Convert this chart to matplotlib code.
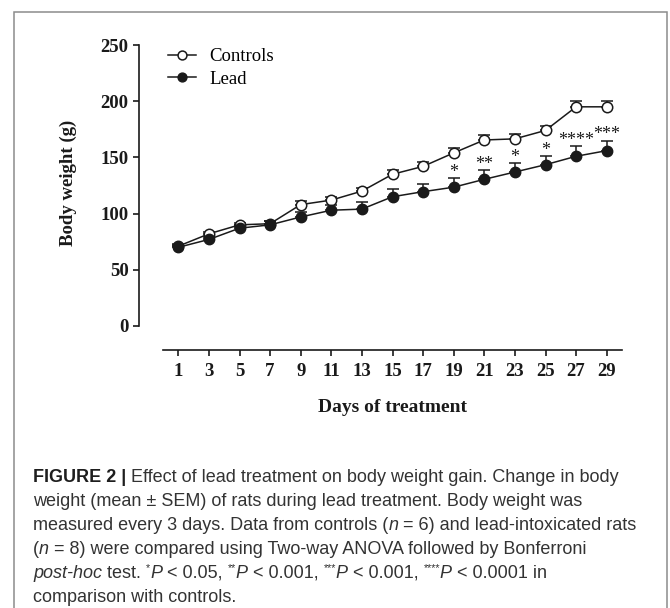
import matplotlib
matplotlib.use("Agg")
import matplotlib.pyplot as plt
from matplotlib.patches import Rectangle
import numpy as np

# donnees
days = [1, 3, 5, 7, 9, 11, 13, 15, 17, 19, 21, 23, 25, 27, 29]
controls = [71, 82, 90, 91, 108, 112, 120, 135, 142, 154, 165.5, 166.5, 174, 195, 195]
controls_sem = [2, 2, 2, 2, 3, 3, 3, 4, 4, 4, 4, 4, 4, 5, 5]
lead = [70, 77, 87, 90, 97, 103, 104, 115, 119.5, 123.5, 130.5, 137, 143.5, 151, 156]
lead_sem = [2, 2, 3, 3, 4, 5, 6, 7, 7, 8, 8, 8, 7.5, 9, 9]
stars = ["", "", "", "", "", "", "", "", "", "*", "**", "*", "*", "****", "***"]
yticks = [0, 50, 100, 150, 200, 250]

caption = [
    [("FIGURE 2 |", "b"), (" Effect of lead treatment on body weight gain. Change in body", "r")],
    [("weight (mean \u00b1 SEM) of rats during lead treatment. Body weight was", "r")],
    [("measured every 3 days. Data from controls (", "r"), ("n", "i"), (" = 6) and lead-intoxicated rats", "r")],
    [("(", "r"), ("n", "i"), (" = 8) were compared using Two-way ANOVA followed by Bonferroni", "r")],
    [("post-hoc", "i"), (" test. ", "r"), ("*", "s"), ("P", "i"), (" < 0.05, ", "r"), ("**", "s"), ("P", "i"),
     (" < 0.001, ", "r"), ("***", "s"), ("P", "i"), (" < 0.001, ", "r"), ("****", "s"), ("P", "i"),
     (" < 0.0001 in", "r")],
    [("comparison with controls.", "r")],
]

W, H = 670, 608
serif = "Liberation Serif"
sans = "Liberation Sans"
ink = "#1a1a1a"

fig = plt.figure(figsize=(W / 100, H / 100), dpi=100)

# cadre autour de la figure
fig.add_artist(Rectangle((14 / W, -0.05), (667 - 14) / W, (H - 12) / H + 0.05,
                         transform=fig.transFigure, fill=False, edgecolor="#8c8c8c", lw=1.1))

ax = fig.add_axes([163 / W, (H - 326) / H, (622 - 163) / W, (326 - 45) / H])
ax.set_xlim(0, 30)
ax.set_ylim(0, 250)

for s in ["top", "right"]:
    ax.spines[s].set_visible(False)
off = 24 * 72 / 100
ax.spines["left"].set_position(("outward", off))
ax.spines["bottom"].set_position(("outward", off))
ax.spines["left"].set_bounds(0, 250)
ax.spines["bottom"].set_bounds(0, 30)
for s in ["left", "bottom"]:
    ax.spines[s].set_linewidth(1.2)
    ax.spines[s].set_color(ink)

ax.set_xticks(days)
ax.set_yticks(yticks)
ax.tick_params(direction="out", length=4.5, width=1.2, color=ink)
ax.tick_params(axis="x", pad=5)
ax.tick_params(axis="y", pad=3)
for lab in ax.get_xticklabels() + ax.get_yticklabels():
    lab.set_fontfamily(serif)
    lab.set_fontweight("bold")
    lab.set_fontsize(13.5)
    lab.set_color(ink)

# barres d'erreur vers le haut seulement
zeros = np.zeros(len(days))
ax.errorbar(days, controls, yerr=[zeros, controls_sem], fmt="none", ecolor=ink,
            elinewidth=1.1, capsize=4, capthick=1.1, zorder=1)
ax.errorbar(days, lead, yerr=[zeros, lead_sem], fmt="none", ecolor=ink,
            elinewidth=1.1, capsize=4, capthick=1.1, zorder=1)
ax.plot(days, controls, "-o", color=ink, lw=1.1, ms=7.5, mfc="white", mec=ink, mew=1.1,
        label="Controls", zorder=3)
ax.plot(days, lead, "-o", color=ink, lw=1.1, ms=7.5, mfc=ink, mec=ink,
        label="Lead", zorder=3)

for d, v, e, st in zip(days, lead, lead_sem, stars):
    if st:
        ax.annotate(st, (d, v + e), xytext=(0, 1), textcoords="offset points",
                    ha="center", va="baseline", fontsize=13, fontfamily=serif, color=ink)

leg = ax.legend(loc="upper left", bbox_to_anchor=(168 / W, 1 - 48 / H),
                bbox_transform=fig.transFigure, frameon=False, borderpad=0,
                borderaxespad=0, handlelength=1.5, handletextpad=0.7, labelspacing=0.3,
                prop={"family": serif, "size": 13.5}, markerscale=0.85)

fig.text(68 / W, 1 - 183 / H, "Body weight (g)", rotation=90, ha="center", va="center",
         fontfamily=serif, fontweight="bold", fontsize=13.5, color=ink)
fig.text(392 / W, 1 - 408 / H, "Days of treatment", ha="center", va="center",
         fontfamily=serif, fontweight="bold", fontsize=14, color=ink)

# legende de la figure, morceau par morceau
renderer = fig.canvas.get_renderer()
cap_size = 13.0
styles = {
    "r": dict(fontfamily=sans, fontsize=cap_size, color="#333333"),
    "b": dict(fontfamily=sans, fontsize=cap_size, color="#1e1e1e", fontweight="bold"),
    "i": dict(fontfamily=sans, fontsize=cap_size, color="#333333", fontstyle="italic"),
    "s": dict(fontfamily=sans, fontsize=cap_size * 0.6, color="#333333"),
}


def largeur(s, st):
    t = fig.text(0, 0, s + "x", **styles[st])
    u = fig.text(0, 0, "x", **styles[st])
    w = t.get_window_extent(renderer).width - u.get_window_extent(renderer).width
    t.remove()
    u.remove()
    return w


y0 = 477
for i, ligne in enumerate(caption):
    x = 33
    y = y0 + i * 24
    for s, st in ligne:
        dy = -5 if st == "s" else 0
        fig.text(x / W, 1 - (y + dy) / H, s, ha="left", va="center", **styles[st])
        x += largeur(s, st)

fig.savefig("out.png", dpi=100)
